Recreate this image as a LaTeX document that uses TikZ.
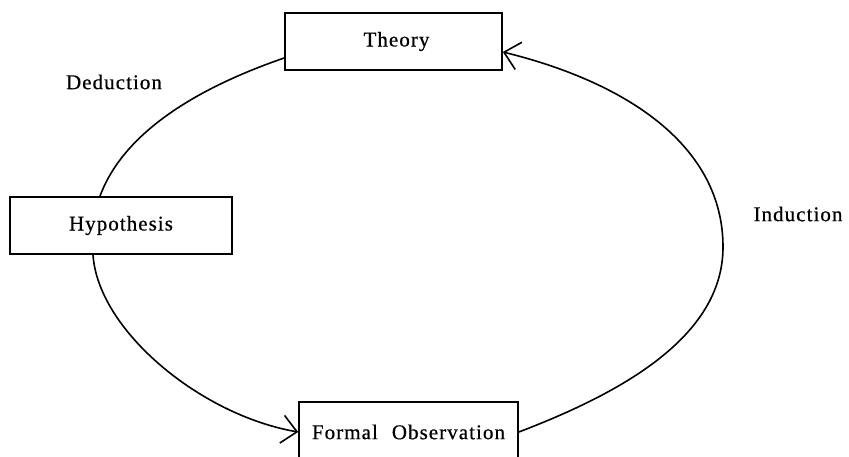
\documentclass[tikz,border=0pt]{standalone}
\usepackage{fontspec}
\setmainfont{Liberation Serif}[LetterSpace=5]
\newfontfamily\lblfont{Liberation Serif}[LetterSpace=5,FakeBold=0.6]
\usetikzlibrary{arrows.meta,calc}
\begin{document}
\begin{tikzpicture}[x=1pt,y=-1pt,
  box/.style={draw, line width=1.7pt, rectangle, inner sep=0pt, minimum height=57pt},
  lbl/.style={inner sep=0pt, font=\lblfont\fontsize{21}{25}\selectfont},
  link/.style={line width=1.6pt},
  barb/.style={-{Straight Barb[length=15pt,width=28pt,line width=1.6pt]}}]
\useasboundingbox (0,0) rectangle (849,457);
\node[box, lbl, minimum width=217pt] (theory) at (393.5,41.5) {\hspace{6pt}Theory};
\node[box, lbl, minimum width=222pt] (hyp) at (121,225.5) {Hypothesis};
\node[box, lbl, minimum width=219pt, minimum height=60pt] (fo) at (408.5,432) {Formal\hspace{14pt}Observation};
\node[lbl] (ded) at (114,82) {Deduction};
\node[lbl] (ind) at (798,214) {Induction};
% Deduction arc
\draw[link] ($(hyp.north)+(-21,0)$) .. controls (124,131) and (200,87) .. ($(theory.west)+(0,16.5)$);
% Hypothesis to observation
\draw[link,barb] ($(hyp.south)+(-28,0)$) .. controls (98,330) and (200,415) .. (fo.west);
% Induction arc
\coordinate (r) at (723,247);
\draw[link] (fo.east) .. controls (621,393) and (723,337) .. (r);
\draw[link,barb] (r) .. controls (723,147) and (629,83) .. ($(theory.east)+(0,10.5)$);
\end{tikzpicture}
\end{document}
